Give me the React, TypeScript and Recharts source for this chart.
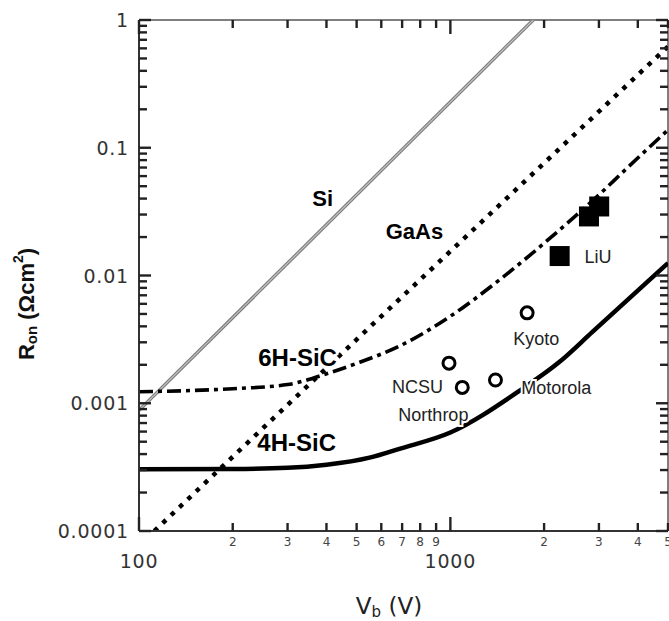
import React from 'react';
import { ComposedChart, Line, Scatter, XAxis, YAxis, ReferenceLine } from 'recharts';

// ---- tick values & labels ----
const xTicks = [100, 200, 300, 400, 500, 600, 700, 800, 900, 1000, 2000, 3000, 4000, 5000];
const xTickLabels = ['100', '2', '3', '4', '5', '6', '7', '8', '9', '1000', '2', '3', '4', '5'];
const xMajor = [100, 1000];

const yTicks = [
  0.0001, 0.0002, 0.0003, 0.0004, 0.0005, 0.0006, 0.0007, 0.0008, 0.0009,
  0.001, 0.002, 0.003, 0.004, 0.005, 0.006, 0.007, 0.008, 0.009,
  0.01, 0.02, 0.03, 0.04, 0.05, 0.06, 0.07, 0.08, 0.09,
  0.1, 0.2, 0.3, 0.4, 0.5, 0.6, 0.7, 0.8, 0.9,
  1,
];
const yMajor = [0.0001, 0.001, 0.01, 0.1, 1];
const yMajorLabels = ['0.0001', '0.001', '0.01', '0.1', '1'];

// ---- series (V_b in volts, R_on in ohm cm^2) ----
const siData = [
  { v: 100, r: 0.00088 },
  { v: 1845, r: 1 },
];
const gaasData = [
  { v: 112, r: 0.0001 },
  { v: 523, r: 0.0035 },
  { v: 5000, r: 0.62 },
];
const sic6hData = [
  { v: 100, r: 0.00123 },
  { v: 200, r: 0.0013 },
  { v: 300, r: 0.0014 },
  { v: 400, r: 0.0017 },
  { v: 500, r: 0.00205 },
  { v: 686, r: 0.0028 },
  { v: 1000, r: 0.0048 },
  { v: 1435, r: 0.0092 },
  { v: 2183, r: 0.0215 },
  { v: 2590, r: 0.031 },
  { v: 3006, r: 0.043 },
  { v: 3663, r: 0.068 },
  { v: 5000, r: 0.138 },
];
const sic4hData = [
  { v: 100, r: 0.000304 },
  { v: 200, r: 0.000306 },
  { v: 300, r: 0.000312 },
  { v: 400, r: 0.00033 },
  { v: 550, r: 0.000375 },
  { v: 686, r: 0.00044 },
  { v: 1000, r: 0.00059 },
  { v: 1665, r: 0.00125 },
  { v: 2238, r: 0.0021 },
  { v: 2854, r: 0.0036 },
  { v: 5000, r: 0.0125 },
];
const liuData = [
  { v: 2244, r: 0.0142 },
  { v: 3006, r: 0.0347 },
  { v: 2787, r: 0.029 },
];
const openData = [
  { v: 990, r: 0.00206 },
  { v: 1092, r: 0.00133 },
  { v: 1396, r: 0.00152 },
  { v: 1764, r: 0.0051 },
];
const materialLabels = [
  { v: 389, r: 0.0404, text: 'Si' },
  { v: 767, r: 0.0223, text: 'GaAs' },
  { v: 323, r: 0.0023, text: '6H-SiC' },
  { v: 321, r: 0.000497, text: '4H-SiC' },
];
const siteLabels = [
  { v: 2980, r: 0.01395, text: 'LiU' },
  { v: 1886, r: 0.00318, text: 'Kyoto' },
  { v: 784, r: 0.00134, text: 'NCSU' },
  { v: 2187, r: 0.00132, text: 'Motorola' },
  { v: 882, r: 0.00081, text: 'Northrop' },
];

// ---- layout ----
const W = 669;
const H = 621;
const PLOT_LEFT = 139;
const PLOT_TOP = 20;
const PLOT_RIGHT = 668;
const PLOT_BOTTOM = 531;
const AXIS_COLOR = '#333';
const TICK_COLOR = '#222';
const TICK_FONT = '"DejaVu Sans", sans-serif';
const LABEL_FONT = '"Liberation Sans", Arial, sans-serif';
const MINOR_LEN = 8;
const MAJOR_LEN = 14;

const near = (a: number, list: number[]) => list.some((m) => Math.abs(a - m) / m < 1e-6);

const BottomTick = (props: any) => {
  const { x, y, payload } = props;
  const v = payload.value;
  const idx = xTicks.findIndex((t) => Math.abs(t - v) < 1e-6);
  const major = near(v, xMajor);
  const len = major ? MAJOR_LEN : MINOR_LEN;
  const cx = Number(x);
  const cy = Number(y);
  return (
    <g>
      <line x1={cx} x2={cx} y1={cy} y2={cy - len} stroke={TICK_COLOR} strokeWidth={2.4} />
      <line x1={cx} x2={cx} y1={PLOT_TOP} y2={PLOT_TOP + len} stroke={TICK_COLOR} strokeWidth={2.4} />
      {major ? (
        <text x={cx} y={cy + 30} textAnchor="middle" dominantBaseline="central" fontFamily={TICK_FONT}
          fontSize={19} letterSpacing={0.8} fill="#333">{xTickLabels[idx]}</text>
      ) : (
        <text x={cx} y={cy + 11} textAnchor="middle" dominantBaseline="central" fontFamily={TICK_FONT}
          fontSize={12} fill="#444">{xTickLabels[idx]}</text>
      )}
    </g>
  );
};

const LeftTick = (props: any) => {
  const { x, y, payload } = props;
  const v = payload.value;
  const mIdx = yMajor.findIndex((m) => Math.abs(v - m) / m < 1e-6);
  const major = mIdx >= 0;
  const len = major ? MAJOR_LEN - 2 : MINOR_LEN;
  const cx = Number(x);
  const cy = Number(y);
  return (
    <g>
      <line x1={cx} x2={cx + len} y1={cy} y2={cy} stroke={TICK_COLOR} strokeWidth={2.4} />
      <line x1={PLOT_RIGHT} x2={PLOT_RIGHT - len} y1={cy} y2={cy} stroke={TICK_COLOR} strokeWidth={2.4} />
      {major && (
        <text x={cx - 10} y={cy} textAnchor="end" dominantBaseline="central" fontFamily={TICK_FONT}
          fontSize={19} letterSpacing={0.8} fill="#333">{yMajorLabels[mIdx]}</text>
      )}
    </g>
  );
};

const Square = (p: any) => (
  <rect x={p.cx - 10} y={p.cy - 10} width={20} height={20} fill="#000" />
);
const Ring = (p: any) => (
  <circle cx={p.cx} cy={p.cy} r={6} fill="#fff" stroke="#000" strokeWidth={3} />
);
const MaterialText = (p: any) => (
  <text x={p.cx} y={p.cy} textAnchor="middle" dominantBaseline="central" fontFamily={LABEL_FONT}
    fontWeight="bold" fontSize={p.payload.text.length > 4 ? 24 : 22} fill="#000" stroke="#fff" strokeWidth={4} paintOrder="stroke">
    {p.payload.text}
  </text>
);
const SiteText = (p: any) => (
  <text x={p.cx} y={p.cy} textAnchor="middle" dominantBaseline="central" fontFamily={LABEL_FONT}
    fontSize={18} fill="#222" stroke="#fff" strokeWidth={4} paintOrder="stroke">
    {p.payload.text}
  </text>
);

export default function App() {
  return (
    <div style={{ position: 'absolute', left: 0, top: 0, width: W, height: H, background: '#fff' }}>
      <ComposedChart width={W} height={H} margin={{ top: PLOT_TOP, right: W - PLOT_RIGHT, bottom: 0, left: 0 }}>
        <XAxis
          dataKey="v"
          type="number"
          scale="log"
          domain={[100, 5000]}
          ticks={xTicks}
          interval={0}
          allowDataOverflow
          height={H - PLOT_BOTTOM}
          tickLine={false}
          tickSize={0}
          tickMargin={0}
          axisLine={{ stroke: AXIS_COLOR, strokeWidth: 2 }}
          tick={<BottomTick />}
        />
        <YAxis
          dataKey="r"
          type="number"
          scale="log"
          domain={[0.0001, 1]}
          ticks={yTicks}
          interval={0}
          allowDataOverflow
          width={PLOT_LEFT}
          tickLine={false}
          tickSize={0}
          tickMargin={0}
          axisLine={{ stroke: AXIS_COLOR, strokeWidth: 2 }}
          tick={<LeftTick />}
        />
        <ReferenceLine y={1} stroke="#555" strokeWidth={1.5} />
        <ReferenceLine x={5000} stroke="#555" strokeWidth={1.5} />
        <Line data={siData} dataKey="r" type="linear" stroke="#7a7a7a" strokeWidth={3.4} dot={false} isAnimationActive={false} />
        <Line data={siData} dataKey="r" type="linear" stroke="#c4c4c4" strokeWidth={1.2} dot={false} isAnimationActive={false} />
        <Line data={gaasData} dataKey="r" type="linear" stroke="#000" strokeWidth={4.5} strokeDasharray="4.5 7" dot={false} isAnimationActive={false} />
        <Line data={sic6hData} dataKey="r" type="monotone" stroke="#000" strokeWidth={3.6} strokeDasharray="14 5 4 5" dot={false} isAnimationActive={false} />
        <Line data={sic4hData} dataKey="r" type="monotone" stroke="#000" strokeWidth={4.5} dot={false} isAnimationActive={false} />
        <Scatter data={materialLabels} dataKey="r" shape={<MaterialText />} isAnimationActive={false} />
        <Scatter data={siteLabels} dataKey="r" shape={<SiteText />} isAnimationActive={false} />
        <Scatter data={liuData} dataKey="r" shape={<Square />} isAnimationActive={false} />
        <Scatter data={openData} dataKey="r" shape={<Ring />} isAnimationActive={false} />
      </ComposedChart>
      <svg width={W} height={H} style={{ position: 'absolute', left: 0, top: 0, pointerEvents: 'none' }}>
        <text x={389} y={606} textAnchor="middle" dominantBaseline="central" fontFamily={TICK_FONT} fontSize={23} fill="#222">
          V<tspan dy={6} fontSize={15}>b</tspan><tspan dy={-6}> (V)</tspan>
        </text>
        <text x={26} y={304} transform="rotate(-90 26 304)" textAnchor="middle" dominantBaseline="central"
          fontFamily={LABEL_FONT} fontWeight="bold" fontSize={22} fill="#111">
          R<tspan dy={5} fontSize={15}>on</tspan><tspan dy={-5}> (Ωcm</tspan><tspan dy={-8} fontSize={14}>2</tspan><tspan dy={8}>)</tspan>
        </text>
      </svg>
    </div>
  );
}
